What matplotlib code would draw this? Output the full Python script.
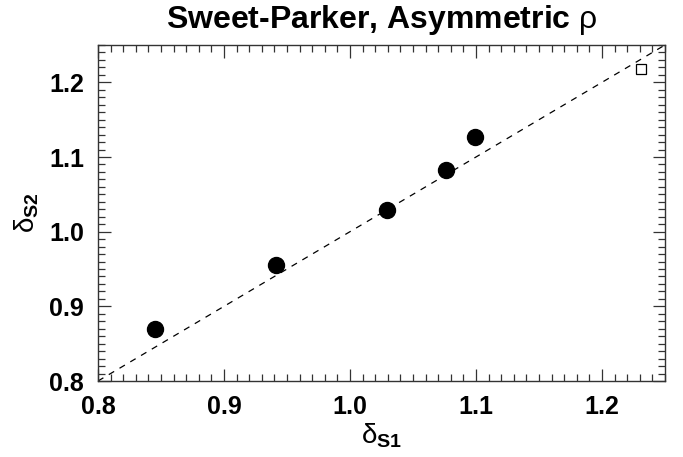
import numpy as np
import matplotlib
matplotlib.use("Agg")
import matplotlib.pyplot as plt
from matplotlib.ticker import MultipleLocator

plt.rcParams['font.family'] = ['Liberation Sans', 'DejaVu Sans']
plt.rcParams['mathtext.fontset'] = 'custom'
plt.rcParams['mathtext.rm'] = 'Liberation Sans'
plt.rcParams['mathtext.bf'] = 'Liberation Sans:bold'
plt.rcParams['mathtext.it'] = 'Liberation Sans:italic'

# delta_S1 vs delta_S2 values
delta_s1 = [0.845, 0.941, 1.029, 1.076, 1.099]
delta_s2 = [0.870, 0.955, 1.029, 1.082, 1.127]
# single open square in the corner
sq_x = [1.231]
sq_y = [1.218]
xlim = (0.8, 1.25)
ylim = (0.8, 1.25)

fig = plt.figure(figsize=(6.83, 4.57), dpi=100)
ax = fig.add_axes([0.1435, 0.1663, 0.8301, 0.7352])

ax.plot(xlim, ylim, ls=(0, (5, 5)), color='black', lw=0.9)
ax.plot(delta_s1, delta_s2, 'o', color='black', ms=11.5)
ax.plot(sq_x, sq_y, 's', mfc='white', mec='black', mew=0.9, ms=6.5)

ax.set_xlim(*xlim)
ax.set_ylim(*ylim)
ax.xaxis.set_major_locator(MultipleLocator(0.1))
ax.xaxis.set_minor_locator(MultipleLocator(0.01))
ax.yaxis.set_major_locator(MultipleLocator(0.1))
ax.yaxis.set_minor_locator(MultipleLocator(0.01))
ax.tick_params(which='both', direction='in', top=True, right=True, width=0.9, color='#333333')
ax.tick_params(which='major', length=9, labelsize=18, pad=10)
ax.tick_params(which='minor', length=5)
for lab in ax.get_xticklabels() + ax.get_yticklabels():
    lab.set_fontweight('bold')
for sp in ax.spines.values():
    sp.set_linewidth(1.0)
    sp.set_color('#333333')

ax.set_xlabel(r'$\mathrm{\delta}_{\mathbf{S1}}$', fontsize=20, labelpad=2)
ax.set_ylabel(r'$\mathrm{\delta}_{\mathbf{S2}}$', fontsize=20, labelpad=6)
ax.set_title(r'Sweet-Parker, Asymmetric $\mathrm{\rho}$', fontsize=23, fontweight='bold', pad=12)

fig.savefig('out.png', dpi=100)
